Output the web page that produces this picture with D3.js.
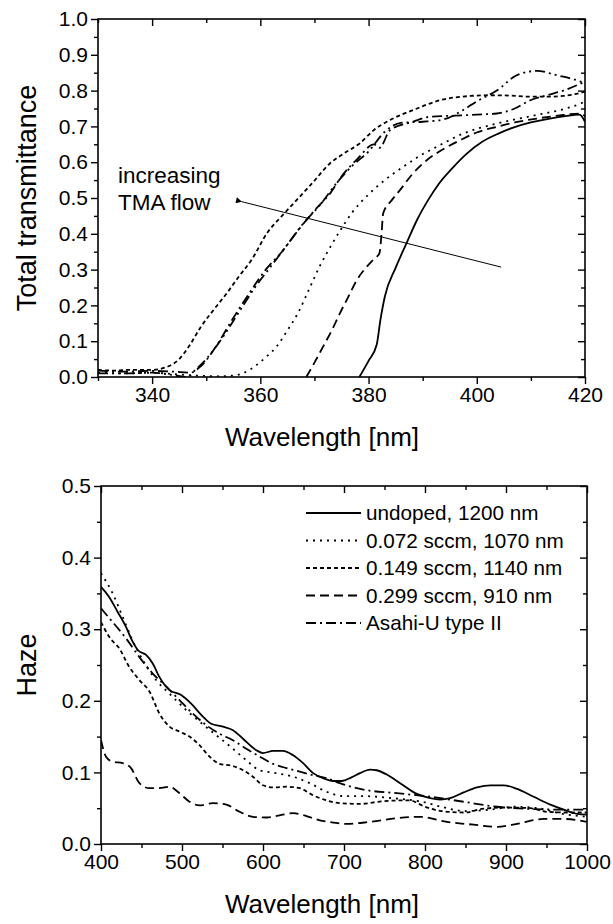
<!DOCTYPE html>
<html>
<head>
<meta charset="utf-8">
<script src="https://cdn.jsdelivr.net/npm/d3@7"></script>
<style>
  html, body { margin: 0; padding: 0; background: #fff; }
  svg { display: block; font-family: "Liberation Sans", Arial, sans-serif; }
</style>
</head>
<body>
<div id="chart"></div>
<script>
// ---- Data: total transmittance (top panel), [wavelength nm, T]
const transUndoped = [[378.3,0],[380,0.045],[381.5,0.09],[382.2,0.16],[383,0.224],[385,0.305],[387,0.373],[389,0.44],[391,0.494],[393,0.54],[395.7,0.587],[398,0.622],[401,0.657],[404,0.68],[407,0.698],[410,0.711],[413.5,0.722],[416,0.728],[419,0.733],[420,0.713]];
const transFlow072 = [[330,0.012],[335,0.01],[340,0.012],[344,0.008],[348,0.004],[352,0.002],[355,0.004],[357,0.012],[359,0.03],[361,0.055],[363,0.085],[365,0.13],[367,0.18],[369,0.245],[371,0.31],[373,0.365],[375,0.415],[377,0.46],[380,0.51],[383,0.55],[386.4,0.587],[389.5,0.618],[392.6,0.643],[397.5,0.68],[403.7,0.708],[411.1,0.732],[416,0.748],[419.2,0.764],[420,0.77]];
const transFlow149 = [[330,0.02],[333,0.018],[336,0.02],[340,0.02],[343,0.03],[345,0.05],[347,0.09],[349,0.14],[351.5,0.19],[353.8,0.234],[356,0.28],[358.5,0.33],[361.2,0.401],[364,0.45],[366.7,0.494],[369.5,0.54],[372.9,0.597],[375.5,0.625],[378.4,0.653],[381,0.69],[384,0.718],[388.3,0.746],[393.2,0.773],[398.8,0.785],[402.5,0.787],[406,0.786],[409.9,0.783],[413,0.783],[416,0.785],[420,0.797]];
const transFlow299 = [[368.5,0],[370,0.04],[371.6,0.085],[373.2,0.13],[374.7,0.178],[376.3,0.225],[377.8,0.27],[379.5,0.305],[381,0.33],[382,0.345],[382.4,0.40],[382.7,0.457],[384.3,0.494],[385.8,0.522],[388,0.565],[390.8,0.606],[394,0.638],[397,0.662],[400,0.683],[403.7,0.699],[407,0.711],[411.1,0.722],[415,0.73],[419.2,0.736],[420,0.728]];
const transAsahi = [[330,0.018],[335,0.015],[340,0.017],[344,0.015],[347,0.012],[349,0.03],[352,0.09],[355,0.165],[358,0.235],[361,0.30],[364,0.35],[367,0.41],[370,0.465],[373,0.515],[375,0.56],[378,0.61],[381,0.65],[382,0.64],[384,0.69],[388,0.712],[391.4,0.727],[396,0.73],[400,0.733],[403.7,0.736],[407,0.75],[409.9,0.773],[413,0.787],[416,0.80],[420,0.825]];
const transExtra = [[330,0.01],[335,0.01],[340,0.012],[344,0.005],[346.5,0],[348,0.02],[350,0.05],[353,0.11],[356,0.18],[359,0.25],[362,0.31],[365,0.37],[368,0.43],[371,0.48],[374,0.54],[377,0.59],[380,0.63],[383,0.685],[386,0.71],[390,0.713],[394,0.72],[397.5,0.746],[400,0.77],[403.7,0.80],[407.4,0.843],[411.1,0.855],[414.8,0.843],[419.2,0.825],[420,0.82]];

// ---- Data: haze (bottom panel), [wavelength nm, H]
const hazeUndoped = [[400,0.359],[410,0.345],[420.6,0.324],[431,0.303],[438,0.285],[445.4,0.271],[455.7,0.264],[463.9,0.252],[472.2,0.233],[484.5,0.215],[499,0.208],[511.3,0.196],[525.8,0.178],[536,0.168],[550.5,0.164],[562.9,0.159],[575.3,0.147],[591.8,0.131],[600,0.127],[612.4,0.13],[624.7,0.13],[637.1,0.124],[649.5,0.113],[661.9,0.099],[674.2,0.092],[686.6,0.088],[697,0.088],[709.3,0.093],[719.8,0.099],[732.2,0.104],[740.4,0.103],[752.8,0.097],[769.3,0.085],[789.9,0.07],[806.4,0.064],[818.8,0.062],[831.1,0.064],[847.6,0.072],[864.1,0.079],[880.6,0.082],[897.1,0.082],[913.6,0.077],[934.2,0.066],[954.8,0.055],[971.3,0.048],[987.8,0.042],[1000,0.041]];
const hazeFlow072 = [[400,0.378],[414.4,0.35],[426.8,0.317],[437.1,0.289],[451.5,0.257],[468,0.229],[484.5,0.21],[505.2,0.187],[521.6,0.171],[542.3,0.152],[562.9,0.133],[579.4,0.117],[595.9,0.103],[616.5,0.099],[637.1,0.094],[657.7,0.085],[678.4,0.073],[699,0.067],[720,0.067],[760,0.064],[800,0.058],[820,0.052],[850,0.046],[880,0.048],[910,0.052],[940,0.05],[970,0.042],[1000,0.038]];
const hazeFlow149 = [[400,0.31],[410.3,0.289],[422.7,0.273],[435,0.247],[447.4,0.229],[459.8,0.213],[472.2,0.182],[484.5,0.164],[496.9,0.157],[509.3,0.15],[521.6,0.138],[534,0.122],[546.4,0.112],[562.9,0.109],[575.3,0.103],[587.6,0.094],[600,0.082],[612.4,0.079],[628.9,0.08],[645.4,0.078],[661.9,0.068],[678.4,0.061],[694.8,0.057],[720,0.056],[750,0.06],[780,0.061],[800,0.052],[820,0.046],[850,0.044],[870,0.049],[900,0.051],[930,0.05],[950,0.045],[975,0.044],[1000,0.044]];
const hazeFlow299 = [[400,0.145],[406.2,0.122],[414.4,0.115],[426.8,0.113],[437.1,0.106],[447.4,0.085],[459.8,0.078],[472.2,0.078],[484.5,0.08],[496.9,0.071],[509.3,0.059],[521.6,0.054],[538.1,0.057],[554.6,0.055],[571.1,0.045],[587.6,0.038],[604.1,0.037],[620.6,0.04],[637.1,0.043],[653.6,0.039],[670.1,0.033],[686.6,0.03],[703.1,0.028],[732,0.031],[765,0.036],[794,0.038],[827,0.031],[860,0.027],[889,0.024],[913.6,0.028],[946.6,0.035],[971,0.035],[1000,0.031]];
const hazeAsahi = [[400,0.329],[414.4,0.31],[431,0.287],[447.4,0.261],[463.9,0.238],[480.4,0.22],[496.9,0.201],[513.4,0.182],[529.9,0.166],[546.4,0.154],[562.9,0.145],[579.4,0.133],[595.9,0.122],[612.4,0.112],[628.9,0.106],[645.4,0.101],[661.9,0.096],[678.4,0.092],[694.8,0.085],[723.9,0.076],[765.2,0.071],[806.4,0.066],[847.6,0.059],[888.9,0.052],[930,0.049],[971,0.048],[1000,0.048]];

const legendLabels = ['undoped, 1200 nm', '0.072 sccm, 1070 nm', '0.149 sccm, 1140 nm', '0.299 sccm, 910 nm', 'Asahi-U type II'];

// ---- Tick values
const topXTicks = [340, 360, 380, 400, 420];
const topXMinor = [330, 350, 370, 390, 410];
const topYTicks = [0, 0.1, 0.2, 0.3, 0.4, 0.5, 0.6, 0.7, 0.8, 0.9, 1.0];
const topYMinor = [0.05, 0.15, 0.25, 0.35, 0.45, 0.55, 0.65, 0.75, 0.85, 0.95];
const botXTicks = [400, 500, 600, 700, 800, 900, 1000];
const botXMinor = [450, 550, 650, 750, 850, 950];
const botYTicks = [0, 0.1, 0.2, 0.3, 0.4, 0.5];
const botYMinor = [0.05, 0.15, 0.25, 0.35, 0.45];

// line styles (dash patterns)
const DASH = {
  solid: null,
  dot: '2,5',
  shortDash: '4,3',
  dash: '9,5',
  dashDot: '10,4,2,4',
  dashDotDot: '10,4,2,4,2,4'
};

const W = 613, H = 924;
const svg = d3.select('#chart').append('svg')
  .attr('width', W)
  .attr('height', H);

const defs = svg.append('defs');
defs.append('marker')
  .attr('id', 'arrowhead')
  .attr('viewBox', '0 0 10 10')
  .attr('refX', 1)
  .attr('refY', 5)
  .attr('markerWidth', 9)
  .attr('markerHeight', 6)
  .attr('markerUnits', 'userSpaceOnUse')
  .attr('orient', 'auto')
  .append('path')
  .attr('d', 'M10,0 L0,5 L10,10 Z')
  .attr('fill', '#000');

function drawPanel(cfg) {
  const x = d3.scaleLinear().domain(cfg.xDomain).range([cfg.left, cfg.right]);
  const y = d3.scaleLinear().domain(cfg.yDomain).range([cfg.bottom, cfg.top]);
  const g = svg.append('g');

  defs.append('clipPath').attr('id', cfg.id + '-clip')
    .append('rect')
    .attr('x', cfg.left).attr('y', cfg.top)
    .attr('width', cfg.right - cfg.left).attr('height', cfg.bottom - cfg.top);

  // curves
  const line = d3.line()
    .x(d => x(d[0]))
    .y(d => y(d[1]))
    .curve(d3.curveMonotoneX);

  const curves = g.append('g').attr('clip-path', `url(#${cfg.id}-clip)`);
  cfg.series.forEach(s => {
    curves.append('path')
      .datum(s.data)
      .attr('d', line)
      .attr('fill', 'none')
      .attr('stroke', '#000')
      .attr('stroke-width', 1.8)
      .attr('stroke-dasharray', s.dash);
  });

  // axes: outward on bottom/left, mirrored inward on top/right
  const styleAxis = sel => {
    sel.select('.domain').remove();
    sel.selectAll('line').attr('stroke', '#000').attr('stroke-width', 1.4);
    sel.selectAll('text')
      .attr('fill', '#000')
      .attr('font-size', '21px')
      .attr('font-family', '"Liberation Sans", Arial, sans-serif');
  };
  const fmtX = d3.format('d');
  const fmtY = d3.format('.1f');

  g.append('g').attr('transform', `translate(0,${cfg.bottom})`)
    .call(d3.axisBottom(x).tickValues(cfg.xTicks).tickSize(7).tickPadding(3).tickFormat(fmtX))
    .call(styleAxis);
  g.append('g').attr('transform', `translate(0,${cfg.bottom})`)
    .call(d3.axisBottom(x).tickValues(cfg.xMinor).tickSize(4).tickFormat(''))
    .call(styleAxis);
  g.append('g').attr('transform', `translate(${cfg.left},0)`)
    .call(d3.axisLeft(y).tickValues(cfg.yTicks).tickSize(7).tickPadding(3).tickFormat(fmtY))
    .call(styleAxis);
  g.append('g').attr('transform', `translate(${cfg.left},0)`)
    .call(d3.axisLeft(y).tickValues(cfg.yMinor).tickSize(4).tickFormat(''))
    .call(styleAxis);
  g.append('g').attr('transform', `translate(0,${cfg.top})`)
    .call(d3.axisTop(x).tickValues(cfg.xTicks).tickSize(-7).tickFormat(''))
    .call(styleAxis);
  g.append('g').attr('transform', `translate(0,${cfg.top})`)
    .call(d3.axisTop(x).tickValues(cfg.xMinor).tickSize(-4).tickFormat(''))
    .call(styleAxis);
  g.append('g').attr('transform', `translate(${cfg.right},0)`)
    .call(d3.axisRight(y).tickValues(cfg.yTicks).tickSize(-7).tickFormat(''))
    .call(styleAxis);
  g.append('g').attr('transform', `translate(${cfg.right},0)`)
    .call(d3.axisRight(y).tickValues(cfg.yMinor).tickSize(-4).tickFormat(''))
    .call(styleAxis);

  // frame
  g.append('rect')
    .attr('x', cfg.left).attr('y', cfg.top)
    .attr('width', cfg.right - cfg.left).attr('height', cfg.bottom - cfg.top)
    .attr('fill', 'none')
    .attr('stroke', '#000')
    .attr('stroke-width', 1.6);

  // axis titles (Origin puts them a bit left of the plot centre)
  g.append('text')
    .attr('x', 322)
    .attr('y', cfg.bottom + 69)
    .attr('text-anchor', 'middle')
    .attr('font-size', '26px')
    .text('Wavelength [nm]');
  g.append('text')
    .attr('transform', `translate(36,${(cfg.top + cfg.bottom) / 2}) rotate(-90)`)
    .attr('text-anchor', 'middle')
    .attr('font-size', '27px')
    .text(cfg.yLabel);

  return { x, y, g };
}

// ---- Top panel: total transmittance
const transPanel = drawPanel({
  id: 'trans',
  left: 98, right: 585, top: 19, bottom: 377,
  xDomain: [330, 420], yDomain: [0, 1],
  xTicks: topXTicks, xMinor: topXMinor,
  yTicks: topYTicks, yMinor: topYMinor,
  yLabel: 'Total transmittance',
  series: [
    { data: transUndoped, dash: DASH.solid },
    { data: transFlow072, dash: DASH.dot },
    { data: transFlow149, dash: DASH.shortDash },
    { data: transFlow299, dash: DASH.dash },
    { data: transAsahi, dash: DASH.dashDot },
    { data: transExtra, dash: DASH.dashDotDot }
  ]
});

// annotation arrow
transPanel.g.append('line')
  .attr('x1', transPanel.x(404.5)).attr('y1', transPanel.y(0.307))
  .attr('x2', transPanel.x(356.5)).attr('y2', transPanel.y(0.49))
  .attr('stroke', '#000')
  .attr('stroke-width', 1)
  .attr('marker-end', 'url(#arrowhead)');
transPanel.g.append('text')
  .attr('x', 118).attr('y', 183)
  .attr('font-size', '22.5px')
  .text('increasing');
transPanel.g.append('text')
  .attr('x', 118).attr('y', 210)
  .attr('font-size', '22.5px')
  .text('TMA flow');

// ---- Bottom panel: haze
const bottomSeries = [
  { data: hazeUndoped, dash: DASH.solid },
  { data: hazeFlow072, dash: DASH.dot },
  { data: hazeFlow149, dash: DASH.shortDash },
  { data: hazeFlow299, dash: DASH.dash },
  { data: hazeAsahi, dash: DASH.dashDot }
];
const hazePanel = drawPanel({
  id: 'haze',
  left: 101, right: 587, top: 486, bottom: 844,
  xDomain: [400, 1000], yDomain: [0, 0.5],
  xTicks: botXTicks, xMinor: botXMinor,
  yTicks: botYTicks, yMinor: botYMinor,
  yLabel: 'Haze',
  series: bottomSeries
});

// legend
const legend = hazePanel.g.append('g');
legendLabels.forEach((label, i) => {
  const ly = 513 + i * 27.5;
  legend.append('line')
    .attr('x1', 306).attr('x2', 361)
    .attr('y1', ly).attr('y2', ly)
    .attr('stroke', '#000')
    .attr('stroke-width', 1.8)
    .attr('stroke-dasharray', bottomSeries[i].dash);
  legend.append('text')
    .attr('x', 366).attr('y', ly)
    .attr('dy', '0.35em')
    .attr('font-size', '20.7px')
    .text(label);
});
</script>
</body>
</html>
